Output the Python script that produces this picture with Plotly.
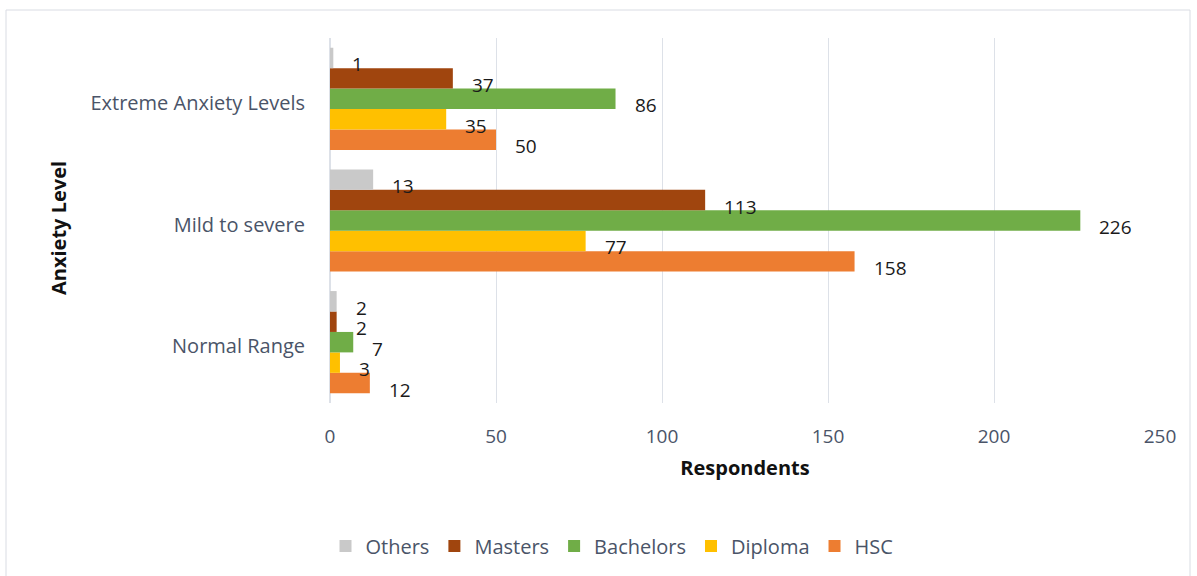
import plotly.graph_objects as go

categories = ["Normal Range", "Mild to severe", "Extreme Anxiety Levels"]
series_names = ["HSC", "Diploma", "Bachelors", "Masters", "Others"]
hsc = [12, 158, 50]
diploma = [3, 77, 35]
bachelors = [7, 226, 86]
masters = [2, 113, 37]
others = [2, 13, 1]
colors = {"HSC": "#ED7D31", "Diploma": "#FFC000", "Bachelors": "#70AD47",
          "Masters": "#A0450E", "Others": "#C9C9C9"}
values = {"HSC": hsc, "Diploma": diploma, "Bachelors": bachelors,
          "Masters": masters, "Others": others}

FONT = "Open Sans, sans-serif"
bargap = 0.16
nser = len(series_names)
bw = (1 - bargap) / nser

fig = go.Figure()
for i, name in enumerate(series_names):
    fig.add_trace(go.Bar(
        y=categories, x=values[name], name=name, orientation="h",
        marker=dict(color=colors[name], line=dict(width=0)),
    ))
    for ci, v in enumerate(values[name]):
        fig.add_annotation(
            x=v, y=ci + (i - (nser - 1) / 2) * bw, xref="x", yref="y",
            text=str(v), showarrow=False, xanchor="left", yanchor="middle",
            xshift=18, yshift=-6, height=19, valign="middle", borderpad=0,
            font=dict(family=FONT, size=19, color="#1a1a1a"),
        )

W, H = 1197, 576
ml, mr, mt, mb = 330, 37, 38, 173
pw, ph = W - ml - mr, H - mt - mb

fig.update_layout(
    width=W, height=H,
    margin=dict(l=ml, r=mr, t=mt, b=mb, autoexpand=False),
    barmode="group", bargap=bargap, bargroupgap=0,
    plot_bgcolor="white", paper_bgcolor="white",
    font=dict(family=FONT, color="#4a5468", size=18),
    xaxis=dict(range=[0, 250], dtick=50, showgrid=True, gridcolor="#DDE1E8",
               zeroline=True, zerolinecolor="#DDE1E8", ticks="", showline=False,
               automargin=False, ticklabelstandoff=20,
               tickfont=dict(family=FONT, size=19, color="#4a5468"),
               title=dict(text="<b>Respondents</b>", font=dict(family=FONT, size=20, color="#111111"), standoff=12)),
    yaxis=dict(showgrid=False, ticks="", ticklabelstandoff=24, automargin=False,
               ticklabelshift=4,
               tickfont=dict(family=FONT, size=20, color="#4a5468")),
    legend=dict(orientation="h", traceorder="reversed", x=(612 - ml) / pw, xanchor="center",
                y=(H - mb - 546) / ph, yanchor="middle",
                font=dict(family=FONT, size=20, color="#4a5468"),
                itemwidth=30, tracegroupgap=0),
    showlegend=True,
)
fig.add_annotation(text="<b>Anxiety Level</b>", textangle=-90, xref="paper", yref="paper",
                   x=(58 - ml) / pw, y=(H - mb - 228) / ph, showarrow=False,
                   xanchor="center", yanchor="middle",
                   font=dict(family=FONT, size=20, color="#111111"))
fig.add_shape(type="rect", xref="paper", yref="paper",
              x0=(6 - ml) / pw, x1=(1190 - ml) / pw,
              y0=(H - mb - 600) / ph, y1=(H - mb - 10) / ph,
              line=dict(color="#D9DCE3", width=1), layer="below")
fig.write_html("out.html", config={"displayModeBar": False},
               post_script="document.body.style.margin='0';")
